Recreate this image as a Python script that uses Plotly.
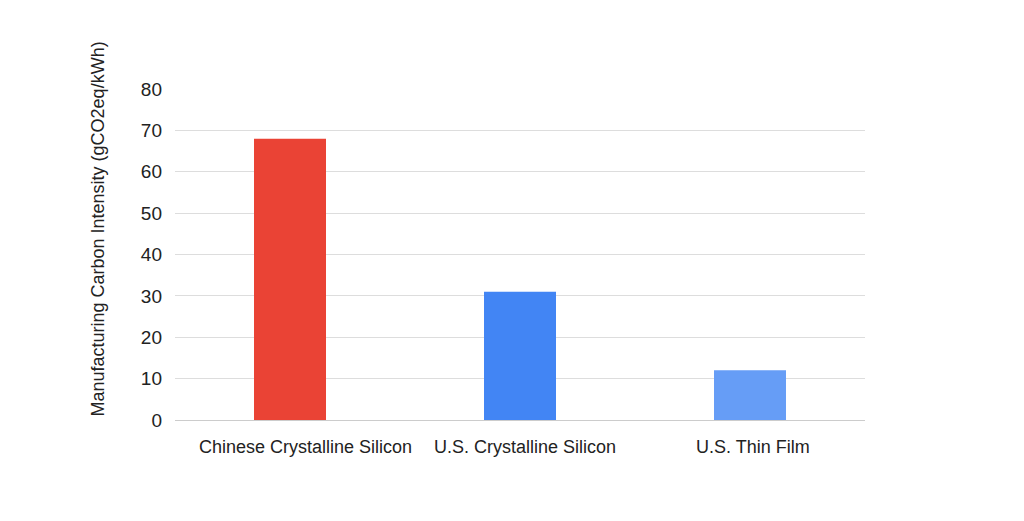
import plotly.graph_objects as go

categories = ["Chinese Crystalline Silicon", "U.S. Crystalline Silicon", "U.S. Thin Film"]
values = [68, 31, 12]
colors = ["#EA4335", "#4285F4", "#669DF6"]
y_title = "Manufacturing Carbon Intensity (gCO2eq/kWh)"
label_shift = [15, 5, 3]

fig = go.Figure(go.Bar(
    x=categories, y=values,
    marker=dict(color=colors, line=dict(width=0)),
    width=0.313,
))

fig.update_layout(
    width=1016, height=513,
    margin=dict(l=167, r=159, t=81, b=101),
    plot_bgcolor="white", paper_bgcolor="white",
    font=dict(family="Liberation Sans, Arial, sans-serif", color="#000000"),
    showlegend=False,
)
fig.update_yaxes(
    range=[0, 80], dtick=10, showgrid=True, gridcolor="#DDDDDD", gridwidth=1,
    zeroline=True, zerolinecolor="#CCCCCC", zerolinewidth=1,
    tickfont=dict(size=19, color="#222222"), ticks="", ticklen=0,
    ticklabelstandoff=12,
)
fig.update_xaxes(
    showgrid=False, showticklabels=False,
    ticks="", showline=False,
)

for cat, dx in zip(categories, label_shift):
    fig.add_annotation(
        x=cat, y=0, xref="x", yref="y", text=cat, showarrow=False,
        xanchor="center", yanchor="middle", xshift=dx, yshift=-27,
        font=dict(size=18, color="#222222"),
    )

fig.add_annotation(
    x=-0.113, y=0.5755, xref="paper", yref="paper", text=y_title,
    showarrow=False, textangle=-90, xanchor="center", yanchor="middle",
    font=dict(size=18, color="#222222"),
)

fig.write_html("out.html")
